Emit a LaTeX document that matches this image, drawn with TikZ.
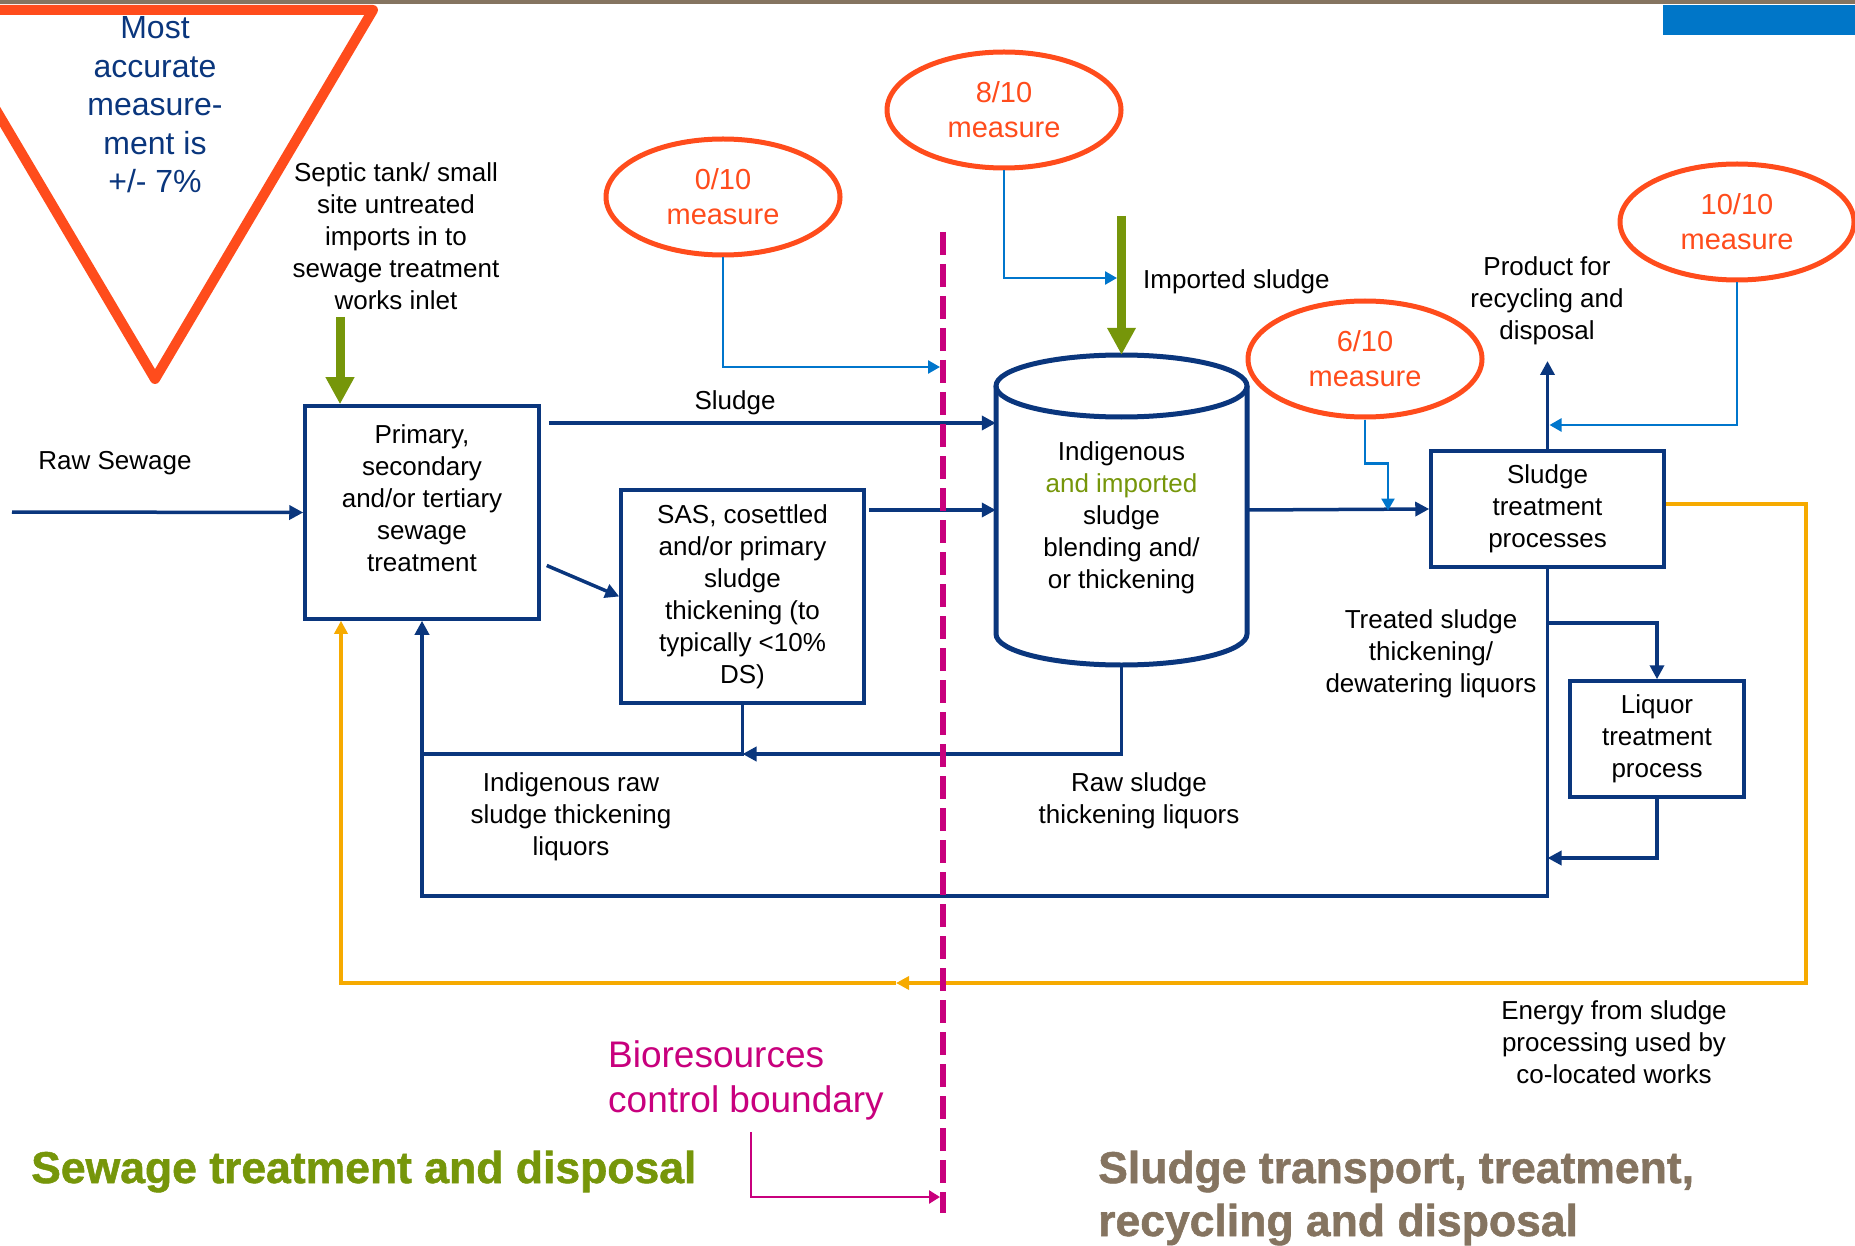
\documentclass[tikz,border=0pt]{standalone}
\usepackage{fontspec}
\setmainfont{Liberation Sans}
\newfontfamily\heavyfont[FakeBold=1.2]{Liberation Sans Bold}
\usetikzlibrary{arrows.meta,shapes.geometric,positioning}

\definecolor{navy}{RGB}{10,54,125}
\definecolor{measblue}{RGB}{0,118,204}
\definecolor{redorange}{RGB}{255,76,28}
\definecolor{amber}{RGB}{246,170,0}
\definecolor{olive}{RGB}{118,150,10}
\definecolor{magentab}{RGB}{200,0,125}
\definecolor{taupe}{RGB}{133,116,96}
\definecolor{topblue}{RGB}{0,118,200}

\newcommand{\txtfont}{\fontsize{26}{32}\selectfont}
\newcommand{\measfont}{\fontsize{29}{35}\selectfont}
\newcommand{\accfont}{\fontsize{32}{38.5}\selectfont}
\newcommand{\biofont}{\fontsize{37}{45}\selectfont}
\newcommand{\headfont}{\heavyfont\fontsize{44.5}{53}\selectfont}

\begin{document}
\begin{tikzpicture}[x=1pt, y=-1pt,
    box/.style={draw=navy, line width=3.5pt, align=center, inner sep=0pt, font=\txtfont},
    lbl/.style={align=center, inner sep=0pt, font=\txtfont},
    flow/.style={draw=navy, line width=3.5pt, -{Triangle[length=14pt, width=14pt]}},
    pipe/.style={draw=navy, line width=3.5pt},
    meas/.style={ellipse, draw=redorange, line width=5pt, text=redorange, align=center,
        inner sep=0pt, minimum width=234pt, minimum height=116pt, font=\measfont},
    measline/.style={draw=measblue, line width=2.5pt, -{Triangle[length=12pt, width=13pt]}},
    import/.style={draw=olive, line width=9pt, -{Triangle[length=27pt, width=27pt]}},
    energy/.style={draw=amber, line width=3.5pt, -{Triangle[length=13pt, width=13pt]}},
    boundary/.style={draw=magentab, line width=6pt, dash pattern=on 23pt off 9pt},
    bioline/.style={draw=magentab, line width=2.5pt, -{Triangle[length=11pt, width=13pt]}}]

    \useasboundingbox (0,0) rectangle (1855,1246);

    \fill[taupe] (0,0) rectangle (1855,4.5);
    \fill[topblue] (1663,5) rectangle (1855,35);

    \draw[redorange, line width=10pt, line join=round] (-63,10) -- (373,10) -- (155,379) -- cycle;
    \node [align=center, inner sep=0pt, text=navy, font=\accfont] (acc) at (155,105)
        {Most\\accurate\\measure-\\ment is\\+/- 7\%};

    % boxes
    \node [box, minimum width=234pt, minimum height=213pt,
        label={[lbl, yshift=14pt]center:{Primary,\\secondary\\and/or tertiary\\sewage\\treatment}}]
        (prim) at (422,512.5) {};
    \node [box, minimum width=243pt, minimum height=213pt] (sas) at (742.5,596.5)
        {SAS, cosettled\\and/or primary\\sludge\\thickening (to\\typically <10\%\\DS)};
    \node [box, minimum width=233pt, minimum height=116pt] (stp) at (1547.5,509)
        {Sludge\\treatment\\processes};
    \node [box, minimum width=174pt, minimum height=116pt] (liq) at (1657,739)
        {Liquor\\treatment\\process};

    \node [minimum width=251pt, minimum height=310pt, inner sep=0pt,
        label={[lbl, yshift=-8pt]center:{Indigenous\\\textcolor{olive}{and imported}\\sludge\\blending and/\\or thickening}}]
        (cyl) at (1121.5,510) {};
    \draw[navy, line width=5pt] (1121.5,386) ellipse [x radius=125.5, y radius=31];
    \draw[navy, line width=5pt] (996,386) -- (996,634)
        arc [start angle=180, end angle=0, x radius=125.5, y radius=31] -- (1247,386);

    % measures
    \node [meas] (m0) at (723,197) {0/10\\measure};
    \node [meas] (m8) at (1004,110) {8/10\\measure};
    \node [meas] (m6) at (1365,359) {6/10\\measure};
    \node [meas] (m10) at (1737,222) {10/10\\measure};

    % labels
    \node [lbl] (rawlbl) at (115,463) {Raw Sewage};
    \node [lbl] (septlbl) at (396,236) {Septic tank/ small\\site untreated\\imports in to\\sewage treatment\\works inlet};
    \node [lbl] (sludgelbl) at (735,403) {Sludge};
    \node [lbl, anchor=west] (implbl) at (1143,282) {Imported sludge};
    \node [lbl] (prodlbl) at (1547,301) {Product for\\recycling and\\disposal};
    \node [lbl] (treatlbl) at (1431,654) {Treated sludge\\thickening/\\dewatering liquors};
    \node [lbl] (indlbl) at (571,817) {Indigenous raw\\sludge thickening\\liquors};
    \node [lbl] (rawslbl) at (1139,801) {Raw sludge\\thickening liquors};
    \node [lbl] (enlbl) at (1614,1042) {Energy from sludge\\processing used by\\co-located works};
    \node [anchor=west, align=left, inner sep=0pt, text=magentab, font=\biofont] (biolbl) at (608,1080)
        {Bioresources\\control boundary};

    \node [anchor=base west, inner sep=0pt, text=olive, font=\headfont] (stdlbl) at (31,1183)
        {Sewage treatment and disposal};
    \node [anchor=base west, inner sep=0pt, text=taupe, font=\headfont] (strlbl) at (1098,1183)
        {Sludge transport, treatment,};
    \node [anchor=base west, inner sep=0pt, text=taupe, font=\headfont] (rcdlbl) at (1098,1236)
        {recycling and disposal};

    % main flows
    \coordinate (rawin) at (12,512);
    \coordinate (prod) at (1547.5,361);
    \draw[flow] (rawin) -- (prim.west);
    \draw[flow] ([xshift=8pt]prim.east |- 0,423) -- (cyl.west |- 0,423);
    \draw[flow] ([xshift=6pt, yshift=-53pt]prim.east) -- (sas.west);
    \draw[flow] ([xshift=3pt]sas.east |- cyl.west) -- (cyl.west);
    \draw[flow] (cyl.east) -- (stp.west);
    \draw[flow] (stp.north) -- (prod);

    % liquor returns
    \draw[flow] (stp.south) -- (stp.south |- 0,896) -- (prim.south |- 0,896) -- (prim.south);
    \draw[flow] (stp.south |- 0,623) -- (liq.north |- 0,623) -- (liq.north);
    \draw[flow] (liq.south) -- (liq.south |- 0,858) -- (stp.south |- 0,858);
    \draw[flow] (cyl.south) -- (cyl.south |- 0,754) -- (sas.south |- 0,754);
    \draw[pipe] (sas.south) -- (sas.south |- 0,754) -- (prim.south |- 0,754);

    % energy
    \coordinate (enmid) at (896,983);
    \draw[energy] ([yshift=5pt]stp.east) -| (1806,983) -- (enmid);
    \draw[energy] (enmid) -| ([xshift=-81pt]prim.south);

    % imports
    \coordinate (septin) at (340,317);
    \coordinate (impin) at (1121.5,216);
    \draw[import] (septin) -- (prim.north -| septin);
    \draw[import] (impin) -- (cyl.north);

    % boundary
    \coordinate (btop) at (943,232);
    \coordinate (bbot) at (943,1213);
    \coordinate (bioin) at (751,1132);
    \draw[bioline] (bioin) |- ([xshift=-3pt]bbot |- 0,1197);

    % measure pointers
    \draw[measline] (m0.south) |- ([xshift=-3pt]btop |- 0,367);
    \draw[measline] (m8.south) |- ([xshift=-4.5pt]impin |- 0,278);
    \draw[measline] (m6.south) -- ++(0,44) -- ++(23,0) -- ++(0,47);
    \draw[measline] (m10.south) |- ([xshift=2pt]stp.north |- 0,425);

    \draw[boundary] (btop) -- (bbot);
\end{tikzpicture}
\end{document}
